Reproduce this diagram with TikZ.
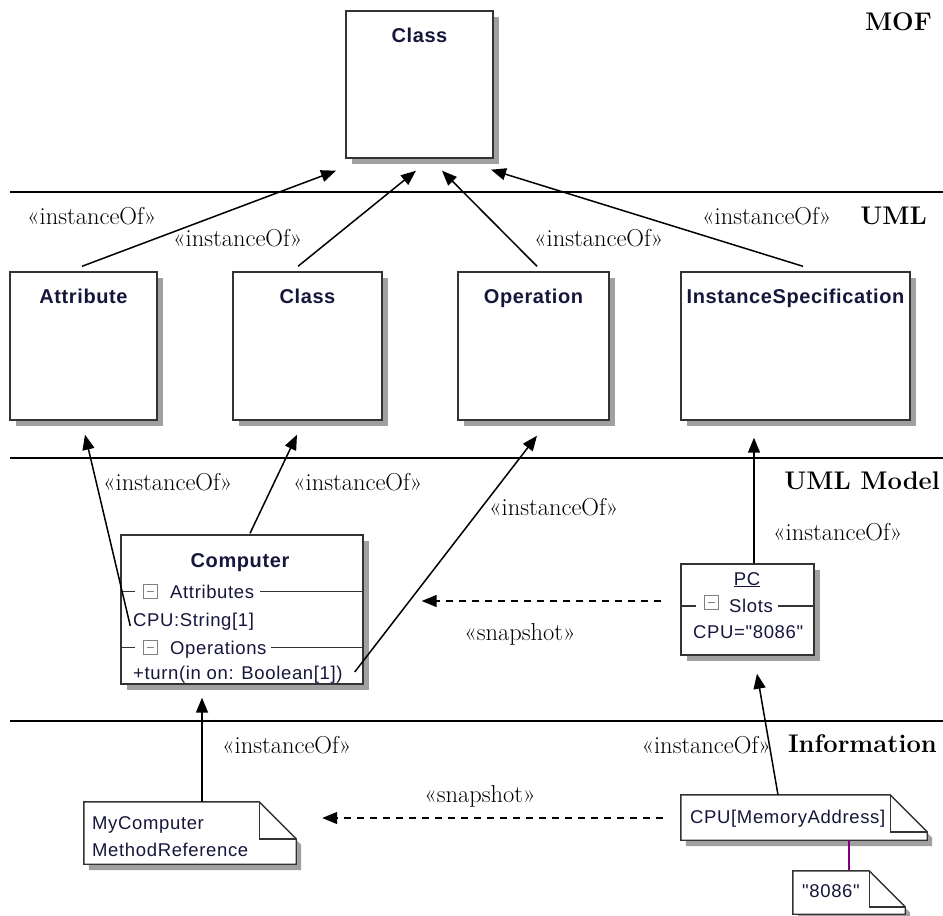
\documentclass[tikz,border=0pt]{standalone}
\usepackage{fontspec}
\newfontfamily\sansf[LetterSpace=3.5]{Liberation Sans}
\newfontfamily\sanst[LetterSpace=3]{Liberation Sans}
\usetikzlibrary{arrows.meta,shadows}
\definecolor{txt}{RGB}{22,22,60}
\definecolor{bord}{RGB}{51,51,51}
\definecolor{shad}{RGB}{160,160,160}
\definecolor{iconc}{RGB}{128,128,128}
\definecolor{linkp}{RGB}{128,0,128}
\tikzset{
  umlbox/.style={draw=bord, line width=1.4pt, fill=white, inner sep=0pt,
    drop shadow={shadow xshift=6pt, shadow yshift=-6pt, fill=shad, opacity=1}},
  notebox/.style={inner sep=0pt},
  boxtitle/.style={font=\sanst\bfseries\fontsize{20}{22}\selectfont, text=txt, anchor=base, inner sep=0pt},
  bodytext/.style={font=\sansf\fontsize{18.5}{21}\selectfont, text=txt, anchor=base west, inner sep=0pt},
  lbl/.style={font=\fontsize{24.5}{26}\selectfont, anchor=base west, inner sep=0pt},
  layer/.style={font=\bfseries\fontsize{25.5}{28}\selectfont, anchor=base east, inner sep=0pt},
  conn/.style={line width=1.5pt, -{Triangle[length=15pt,width=12pt]}},
  snap/.style={conn, dash pattern=on 7pt off 6pt},
  sepline/.style={line width=2pt},
  divl/.style={line width=1.3pt, draw=bord},
  minbox/.style={draw=iconc, line width=0.9pt, fill=white, minimum size=14pt, inner sep=0pt,
    path picture={\draw[iconc, line width=0.9pt] ([xshift=3.5pt]path picture bounding box.west) -- ([xshift=-3.5pt]path picture bounding box.east);}},
}
\newcommand{\drawnote}[2]{%
  \fill[shad, transform canvas={shift={(5pt,-6pt)}}] (#1.north west) -- ([xshift=-#2]#1.north east) -- ([yshift=-#2]#1.north east) -- (#1.south east) -- (#1.south west) -- cycle;
  \draw[bord, line width=1.4pt, fill=white] (#1.north west) -- ([xshift=-#2]#1.north east) -- ([yshift=-#2]#1.north east) -- (#1.south east) -- (#1.south west) -- cycle;
  \draw[bord, line width=1.4pt] ([xshift=-#2]#1.north east) -- ([xshift=-#2,yshift=-#2]#1.north east) -- ([yshift=-#2]#1.north east);}
\begin{document}
\begin{tikzpicture}[x=1pt,y=-1pt]
\useasboundingbox (0,0) rectangle (943,916);

% layer separators
\coordinate (h1a) at (10,192); \coordinate (h1b) at (943,192);
\coordinate (h2a) at (10,458); \coordinate (h2b) at (943,458);
\coordinate (h3a) at (10,721); \coordinate (h3b) at (943,721);
\draw[sepline] (h1a) -- (h1b);
\draw[sepline] (h2a) -- (h2b);
\draw[sepline] (h3a) -- (h3b);

% layer names
\node[layer] (lmof) at (932,30) {MOF};
\node[layer] (luml) at (927,224) {UML};
\node[layer] (lmodel) at (940,489) {UML Model};
\node[layer] (linfo) at (937,752) {Information};

% MOF
\node[umlbox, minimum width=147pt, minimum height=147pt] (Cm) at (419.5,84.5) {};
\node[boxtitle] (tCm) at ([yshift=-32pt]Cm.north) {Class};

% UML
\node[umlbox, minimum width=147pt, minimum height=148pt] (Ua) at (83.5,346) {};
\node[boxtitle] (tUa) at ([yshift=-32pt]Ua.north) {Attribute};
\node[umlbox, minimum width=149pt, minimum height=148pt] (Uc) at (307.5,346) {};
\node[boxtitle] (tUc) at ([yshift=-32pt]Uc.north) {Class};
\node[umlbox, minimum width=151pt, minimum height=148pt] (Uo) at (533.5,346) {};
\node[boxtitle] (tUo) at ([yshift=-32pt]Uo.north) {Operation};
\node[umlbox, minimum width=229pt, minimum height=148pt] (Ui) at (795.5,346) {};
\node[boxtitle] (tUi) at ([yshift=-32pt]Ui.north) {InstanceSpecification};

% UML model: Computer
\node[umlbox, minimum width=242pt, minimum height=149pt] (Cp) at (242,609.5) {};
\node[boxtitle] (tCp) at (240,567) {Computer};
\node[minbox] (ia) at (150.5,591.5) {};
\node[bodytext] (ta) at (170,598) {Attributes};
\draw[divl] (Cp.west |- ia) -- ([xshift=-8pt]ia.west);
\draw[divl] ([xshift=6pt]ta.east |- ia) -- (Cp.east |- ia);
\node[bodytext] (tcpu) at (133,626) {CPU:String[1]};
\node[minbox] (io) at (150.5,647.5) {};
\node[bodytext] (to) at (170,654) {Operations};
\draw[divl] (Cp.west |- io) -- ([xshift=-8pt]io.west);
\draw[divl] ([xshift=4pt]to.east |- io) -- (Cp.east |- io);
\node[bodytext] (tturn) at (133,679) {+turn(in on: Boolean[1])};

% UML model: PC
\node[umlbox, minimum width=133pt, minimum height=91pt] (PC) at (747.5,609.5) {};
\node[bodytext, anchor=base] (tPC) at (747,585) {\underline{PC}};
\node[minbox] (is) at (711,602) {};
\node[bodytext] (ts) at (729,612) {Slots};
\draw[divl] (PC.west |- 0,606) -- ([xshift=-8pt]is.west |- 0,606);
\draw[divl] ([xshift=5pt]ts.east |- 0,606) -- (PC.east |- 0,606);
\node[bodytext] (tslot) at (693,638) {CPU="8086"};

% Information: notes
\node[notebox, minimum width=212pt, minimum height=62pt] (N1) at (190,833) {};
\drawnote{N1}{37pt}
\node[bodytext] (tN1a) at (92,829) {MyComputer};
\node[bodytext] (tN1b) at (92,856) {MethodReference};
\node[notebox, minimum width=246pt, minimum height=45pt] (N2) at (804,817.5) {};
\drawnote{N2}{37pt}
\node[bodytext] (tN2) at (690,823) {CPU[MemoryAddress]};
\node[notebox, minimum width=112pt, minimum height=43pt] (N3) at (849,892.5) {};
\draw[linkp, line width=2.5pt] ([xshift=45pt]N2.south) -- (N3.north);
\drawnote{N3}{36pt}
\node[bodytext] (tN3) at (802,897) {"8086"};

% connectors UML -> MOF
\draw[conn] ([xshift=-1.5pt,yshift=5pt]Ua.north) -- ([xshift=-83.5pt,yshift=-12pt]Cm.south);
\draw[conn] ([xshift=-9.5pt,yshift=5pt]Uc.north) -- ([xshift=-3.5pt,yshift=-12pt]Cm.south);
\draw[conn] ([xshift=3.5pt,yshift=5pt]Uo.north) -- ([xshift=22.5pt,yshift=-12pt]Cm.south);
\draw[conn] ([xshift=7.5pt,yshift=5pt]Ui.north) -- ([xshift=71.5pt,yshift=-11pt]Cm.south);

% connectors model -> UML
\draw[conn] ([xshift=10pt,yshift=-16.5pt]Cp.west) -- ([xshift=1.5pt,yshift=-14pt]Ua.south);
\draw[conn] ([xshift=8pt,yshift=1pt]Cp.north) -- ([xshift=-10.5pt,yshift=-14pt]Uc.south);
\draw[conn] ([xshift=-9pt,yshift=-62.5pt]Cp.east) -- ([xshift=3.5pt,yshift=-15pt]Uo.south);
\draw[conn] ([xshift=6.5pt]PC.north) -- ([xshift=-41.5pt,yshift=-17pt]Ui.south);
\draw[snap] ([xshift=-19pt,yshift=8.5pt]PC.west) -- ([xshift=58pt,yshift=8.5pt]Cp.east);

% connectors information -> model
\draw[conn] ([xshift=12pt]N1.north) -- ([xshift=-40pt,yshift=-13pt]Cp.south);
\draw[conn] ([xshift=-26pt]N2.north) -- ([xshift=9.5pt,yshift=-18pt]PC.south);
\draw[snap] ([xshift=-18pt,yshift=-0.5pt]N2.west) -- ([xshift=26pt,yshift=15pt]N1.east);

% labels
\node[lbl] (i1) at (27,224) {«instanceOf»};
\node[lbl] (i2) at (173,246) {«instanceOf»};
\node[lbl] (i3) at (534,246) {«instanceOf»};
\node[lbl] (i4) at (702,224) {«instanceOf»};
\node[lbl] (i5) at (103,490) {«instanceOf»};
\node[lbl] (i6) at (293,490) {«instanceOf»};
\node[lbl] (i7) at (489,515) {«instanceOf»};
\node[lbl] (i8) at (773,540) {«instanceOf»};
\node[lbl] (i9) at (222,753) {«instanceOf»};
\node[lbl, anchor=base east] (i10) at (771,753) {«instanceOf»};
\node[lbl, anchor=base] (s1) at (520,640) {«snapshot»};
\node[lbl, anchor=base] (s2) at (480,802) {«snapshot»};
\end{tikzpicture}
\end{document}
